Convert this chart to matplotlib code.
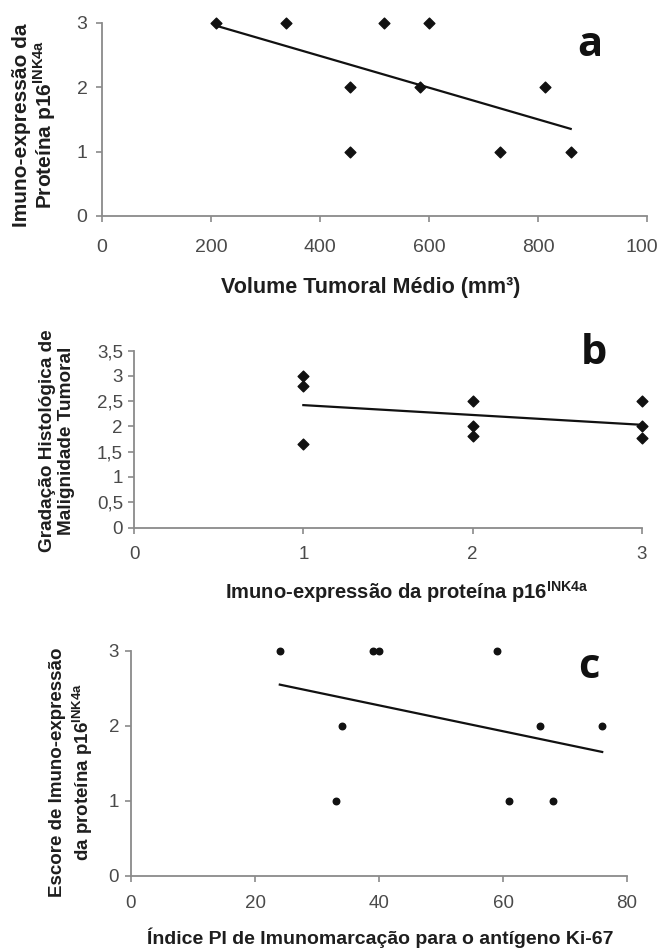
import numpy as np
import matplotlib
matplotlib.use("Agg")
import matplotlib.pyplot as plt

plt.rcParams['font.family'] = ['Liberation Sans', 'DejaVu Sans']
plt.rcParams['mathtext.fontset'] = 'custom'
plt.rcParams['mathtext.rm'] = 'Liberation Sans'
plt.rcParams['mathtext.bf'] = 'Liberation Sans:bold'

# ---- data ----
a_volume = [210, 338, 455, 455, 518, 600, 583, 730, 812, 860]
a_p16 = [3, 3, 2, 1, 3, 3, 2, 1, 2, 1]

b_p16 = [1, 1, 1, 2, 2, 2, 3, 3, 3]
b_grade = [3.0, 2.8, 1.65, 2.5, 2.0, 1.82, 2.5, 2.0, 1.78]

c_ki67 = [24, 39, 40, 59, 34, 66, 76, 33, 61, 68]
c_p16 = [3, 3, 3, 3, 2, 2, 2, 1, 1, 1]

a_xticks = [0, 200, 400, 600, 800, 1000]
a_xticklabels = ["0", "200", "400", "600", "800", "1000"]
a_yticks = [0, 1, 2, 3]
b_xticks = [0, 1, 2, 3]
b_yticks = [0, 0.5, 1, 1.5, 2, 2.5, 3, 3.5]
b_yticklabels = ["0", "0,5", "1", "1,5", "2", "2,5", "3", "3,5"]
c_xticks = [0, 20, 40, 60, 80]
c_yticks = [0, 1, 2, 3]

W, H = 658, 948
fig = plt.figure(figsize=(W / 100, H / 100), dpi=100)

def ax_px(l, t, r, b):
    return fig.add_axes([l / W, 1 - b / H, (r - l) / W, (b - t) / H])

SP = "#8a8a8a"
TK = "#4a4a4a"
LB = "#1e1e1e"
LETTER_FONT = ["Open Sans", "DejaVu Sans"]

def style(ax, xpad, ypad, fs):
    for s in ("top", "right"):
        ax.spines[s].set_visible(False)
    for s in ("left", "bottom"):
        ax.spines[s].set_color(SP)
        ax.spines[s].set_linewidth(1.3)
    ax.tick_params(axis="both", direction="out", length=4, width=1.2, color=SP,
                   labelcolor=TK, labelsize=fs)
    ax.tick_params(axis="x", pad=xpad)
    ax.tick_params(axis="y", pad=ypad)

def trend(ax, x, y):
    x = np.asarray(x, float); y = np.asarray(y, float)
    m, c = np.polyfit(x, y, 1)
    xs = np.array([x.min(), x.max()])
    ax.plot(xs, m * xs + c, color="#111111", lw=1.6, zorder=2)

# ---- panel a ----
ax1 = ax_px(102, 22.7, 647, 216)
ax1.set_xlim(0, 1000); ax1.set_ylim(0, 3)
trend(ax1, a_volume, a_p16)
ax1.scatter(a_volume, a_p16, marker="D", s=30, color="#111111", zorder=3, clip_on=False)
ax1.set_xticks(a_xticks); ax1.set_xticklabels(a_xticklabels)
ax1.set_yticks(a_yticks)
style(ax1, 12.5, 6.5, 14)
fig.text(590 / W, 1 - 46 / H, "a", fontsize=30, fontweight="bold", family=LETTER_FONT,
         ha="center", va="center", color="#111111")
fig.text(35 / W, 1 - 125 / H, "Imuno-expressão da\nProteína p16$^{\\mathbf{INK4a}}$",
         rotation=90, ha="center", va="center", fontsize=15, fontweight="bold",
         color=LB, linespacing=1.0)
fig.text(371 / W, 1 - 287 / H, "Volume Tumoral Médio (mm³)", ha="center", va="center",
         fontsize=15.5, fontweight="bold", color=LB)

# ---- panel b ----
ax2 = ax_px(134, 350.7, 642, 527.5)
ax2.set_xlim(0, 3); ax2.set_ylim(0, 3.5)
trend(ax2, b_p16, b_grade)
ax2.scatter(b_p16, b_grade, marker="D", s=30, color="#111111", zorder=3, clip_on=False)
ax2.set_xticks(b_xticks)
ax2.set_yticks(b_yticks); ax2.set_yticklabels(b_yticklabels)
style(ax2, 9.5, 4, 13.5)
fig.text(594 / W, 1 - 353 / H, "b", fontsize=30, fontweight="bold", family=LETTER_FONT,
         ha="center", va="center", color="#111111")
fig.text(57 / W, 1 - 441 / H, "Gradação Histológica de\nMalignidade Tumoral",
         rotation=90, ha="center", va="center", fontsize=13.7, fontweight="bold",
         color=LB, linespacing=1.2)
fig.text(407 / W, 1 - 592 / H, "Imuno-expressão da proteína p16$^{\\mathbf{INK4a}}$",
         ha="center", va="center", fontsize=14.5, fontweight="bold", color=LB)

# ---- panel c ----
ax3 = ax_px(131, 650.7, 627, 876)
ax3.set_xlim(0, 80); ax3.set_ylim(0, 3)
trend(ax3, c_ki67, c_p16)
ax3.scatter(c_ki67, c_p16, marker="o", s=22, color="#111111", zorder=3, clip_on=False)
ax3.set_xticks(c_xticks)
ax3.set_yticks(c_yticks)
style(ax3, 9.5, 4.5, 13.5)
fig.text(589 / W, 1 - 667 / H, "c", fontsize=30, fontweight="bold", family=LETTER_FONT,
         ha="center", va="center", color="#111111")
fig.text(72 / W, 1 - 772 / H, "Escore de Imuno-expressão\nda proteína p16$^{\\mathbf{INK4a}}$",
         rotation=90, ha="center", va="center", fontsize=13.5, fontweight="bold",
         color=LB, linespacing=1.2)
fig.text(380 / W, 1 - 938 / H, "Índice PI de Imunomarcação para o antígeno Ki-67",
         ha="center", va="center", fontsize=14, fontweight="bold", color=LB)

fig.savefig("out.png", dpi=100, facecolor="white")
